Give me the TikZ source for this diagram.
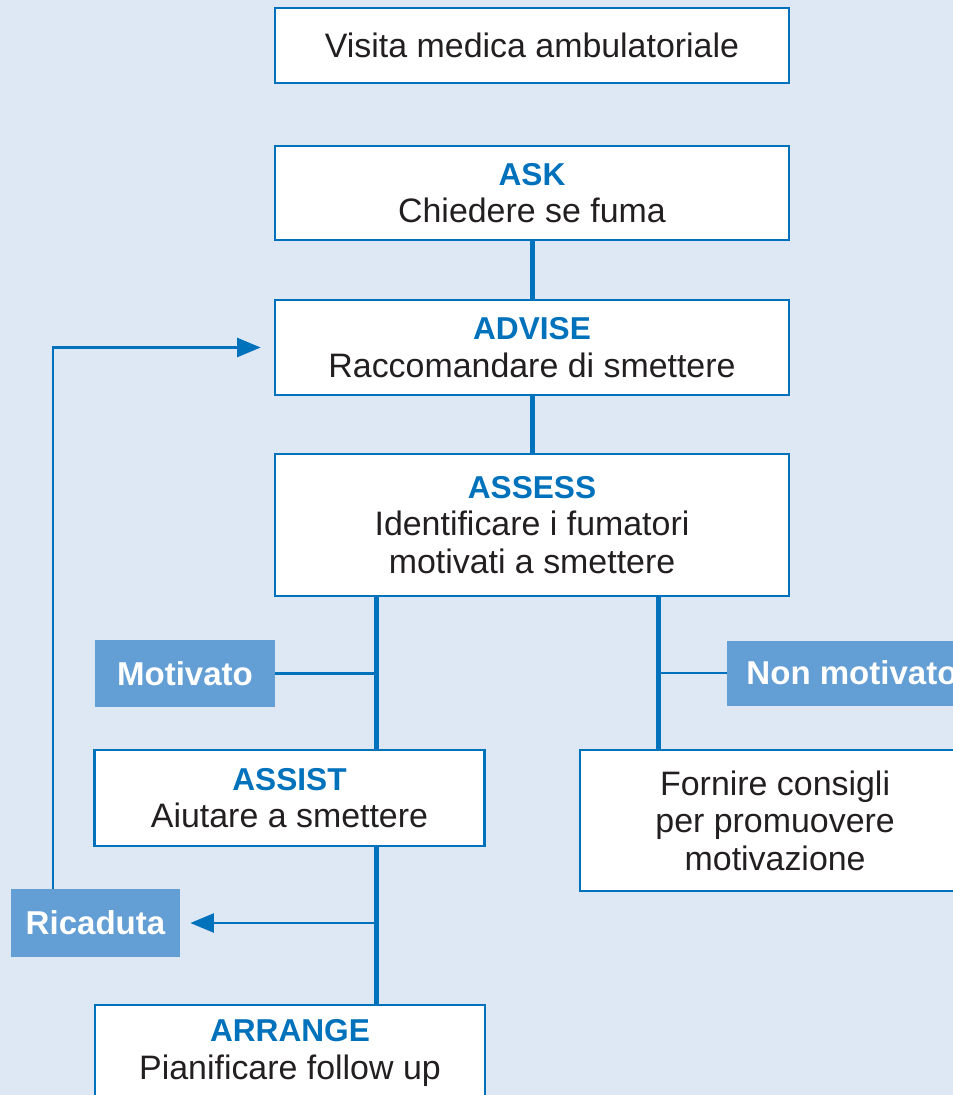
\documentclass[tikz,border=0pt]{standalone}
\usepackage{fontspec}
\setmainfont{Liberation Sans}
\usetikzlibrary{arrows.meta,positioning,calc}
\definecolor{bgblue}{RGB}{222,232,245}
\definecolor{lineblue}{RGB}{0,114,188}
\definecolor{tagblue}{RGB}{99,158,212}
\definecolor{textblack}{RGB}{35,31,32}
\newcommand{\phasename}[1]{{\color{lineblue}\fontsize{18pt}{21.3pt}\selectfont\bfseries #1}}

\begin{document}
\begin{tikzpicture}
\tikzset{basicbox/.style={draw=lineblue, line width=1.5pt, fill=white, align=center, text=textblack, font=\fontsize{19.3pt}{21.3pt}\selectfont, inner sep=2pt}, mainbox/.style={basicbox, minimum width=10.28cm}, stepbox/.style={basicbox, minimum width=7.8cm}, tagbox/.style={fill=tagblue, text=white, font=\fontsize{18.8pt}{21pt}\selectfont\bfseries, minimum height=1.34cm}, thickline/.style={line width=2.85pt, lineblue}, thinline/.style={line width=1.3pt, lineblue}, arrowstyle/.style={thinline, -{Triangle[length=0.47cm, width=0.38cm]}}}
\useasboundingbox (0,0) rectangle (19.06,-21.9);
\clip (0,0) rectangle (19.06,-21.9);
\fill[bgblue] (0,0) rectangle (19.06,-21.9);
% main column
\node[mainbox, minimum height=1.5cm] (visita) at (10.64,-0.91) {Visita medica ambulatoriale};
\node[mainbox, minimum height=1.88cm] (ask) at (10.64,-3.86) {\phasename{ASK}\\Chiedere se fuma};
\node[mainbox, minimum height=1.9cm] (advise) at (10.64,-6.95) {\phasename{ADVISE}\\Raccomandare di smettere};
\node[mainbox, minimum height=2.84cm] (assess) at (10.64,-10.5) {\phasename{ASSESS}\\Identificare i fumatori\\motivati a smettere};
% branches
\node[stepbox, minimum height=1.92cm] (assist) at (5.79,-15.96) {\phasename{ASSIST}\\Aiutare a smettere};
\node[stepbox, minimum height=2.82cm, right=1.86cm of assist.north east, anchor=north west] (fornire) {Fornire consigli\\per promuovere\\motivazione};
\node[stepbox, minimum height=1.92cm] (arrange) at (5.8,-21.06) {\phasename{ARRANGE}\\Pianificare follow up};
\node[tagbox, minimum width=3.6cm] (motivato) at (3.7,-13.47) {Motivato};
\node[tagbox, minimum width=5cm, minimum height=1.3cm] (nonmotivato) at (17.04,-13.46) {Non motivato};
\node[tagbox, minimum width=3.38cm, minimum height=1.36cm] (ricaduta) at (1.91,-18.46) {Ricaduta};
\coordinate (leftbranch) at ($(assess.south west)+(2.06,0)$);
\coordinate (rightbranch) at ($(assess.south east)+(-2.64,0)$);
% connectors
\draw[thickline] (ask) -- (advise);
\draw[thickline] (advise) -- (assess);
\draw[thickline] (leftbranch) -- (leftbranch |- assist.north);
\draw[thickline] (rightbranch) -- (rightbranch |- fornire.north);
\draw[thickline] (assist.south -| leftbranch) -- (arrange.north -| leftbranch);
\draw[thinline] (motivato.east) -- (motivato.east -| leftbranch);
\draw[thinline] (nonmotivato.west) -- (nonmotivato.west -| rightbranch);
\draw[arrowstyle] (ricaduta.east -| leftbranch) -- ([xshift=0.2cm]ricaduta.east);
\draw[arrowstyle] ([xshift=-0.85cm]ricaduta.north) |- ([xshift=-0.26cm]advise.west);
\end{tikzpicture}
\end{document}
